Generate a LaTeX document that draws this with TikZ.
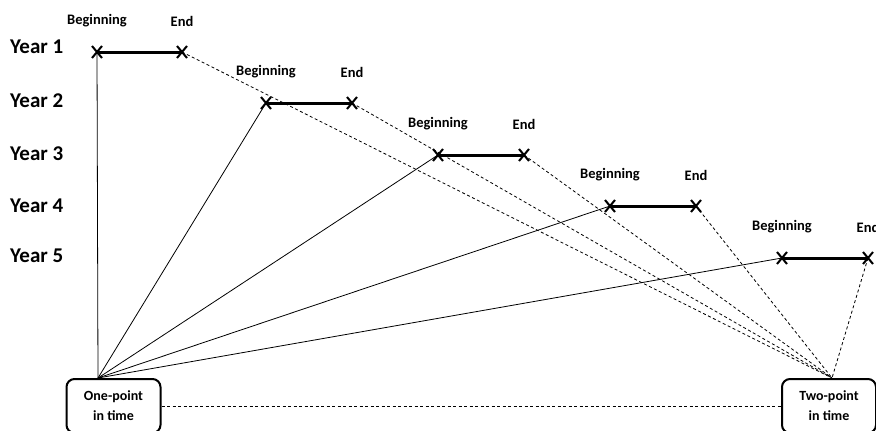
\documentclass[tikz,border=0pt]{standalone}
\usepackage{fontspec}
\setmainfont{Carlito}
\usepackage{tikz}
\usetikzlibrary{shapes.misc}
\usetikzlibrary{positioning}

\tikzset{
  yearlabel/.style={anchor=west,inner sep=0pt,font=\bfseries\fontsize{21}{24}\selectfont},
  pointlabel/.style={font=\bfseries\fontsize{14.5}{17}\selectfont},
  periodbar/.style={line width=3pt},
  crossmark/.style={cross out,draw,line width=2pt,minimum width=8pt,minimum height=10pt,inner sep=0pt},
  timebox/.style={draw,line width=2pt,rounded corners=8pt,minimum width=94pt,minimum height=54pt,align=center,font=\bfseries\fontsize{14}{20}\selectfont},
  tie/.style={line width=0.8pt},
  gap/.style={line width=0.8pt,dash pattern=on 3pt off 2.5pt}
}

\begin{document}
\begin{tikzpicture}[x=1pt,y=-1pt]
\useasboundingbox (0,0) rectangle (876,431);
\node[timebox] (one) at (113.5,406) {One-point\\in time};
\node[timebox] (two) at (829,406) {Two-point\\in time};
\coordinate (onetop) at ([xshift=-15.5pt]one.north);
\coordinate (twotop) at ([xshift=3pt]two.north);
\draw[gap] (one.east) -- (two.west);
\foreach \i/\bx/\ex/\y/\ly in {1/97/182/52/47, 2/266/352/103/101, 3/438/524/155/154, 4/610/696/206/206, 5/782/868/258/256}
{
  \node[yearlabel] (year\i) at (10,\ly) {Year \i};
  \coordinate (b\i) at (\bx,\y);
  \coordinate (e\i) at (\ex,\y);
  \draw[tie] (onetop) -- (b\i);
  \draw[gap] (e\i) -- (twotop);
  \draw[periodbar] (b\i) -- (e\i);
  \node[crossmark] at (b\i) {};
  \node[crossmark] at (e\i) {};
  \node[pointlabel] (begin\i) at (\bx,\y-31) {Beginning};
  \node[pointlabel] (end\i) at (\ex,\y-31) {End};
}
\end{tikzpicture}
\end{document}
